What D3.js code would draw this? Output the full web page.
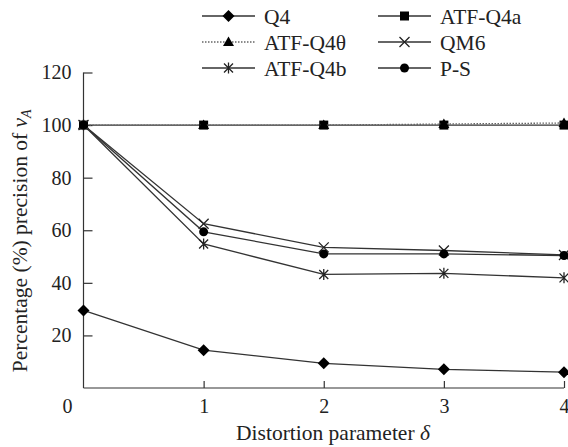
<!DOCTYPE html>
<html>
<head>
<meta charset="utf-8">
<script src="https://cdn.jsdelivr.net/npm/d3@7"></script>
<style>
  body { margin: 0; background: #fff; }
  text { font-family: "Liberation Serif", "Times New Roman", serif; fill: #222; }
</style>
</head>
<body>
<div id="chart"></div>
<script>
// Distortion parameter values on the x axis
const deltas = [0, 1, 2, 3, 4];
const yTicks = [20, 40, 60, 80, 100, 120];
const xTicks = [1, 2, 3, 4];

// Series values
const q4 = [29.5, 14.4, 9.4, 7.1, 6.0];
const atfQ4a = [100, 100, 100, 100, 100];
const atfQ4theta = [100, 100, 100, 100.4, 100.8];
const qm6 = [100, 62.5, 53.5, 52.3, 50.6];
const atfQ4b = [100, 54.8, 43.2, 43.6, 41.9];
const ps = [100, 59.4, 51.0, 51.0, 50.4];

const series = [
    { name: "Q4", values: q4, marker: "diamond", dash: null },
    { name: "ATF-Q4a", values: atfQ4a, marker: "square", dash: null },
    { name: "ATF-Q4θ", values: atfQ4theta, marker: "triangle", dash: "1.5,1.5" },
    { name: "QM6", values: qm6, marker: "cross", dash: null },
    { name: "ATF-Q4b", values: atfQ4b, marker: "star", dash: null },
    { name: "P-S", values: ps, marker: "circle", dash: null }
];

const width = 568, height = 447;
const margin = { left: 83.5, right: 4, top: 72.5, bottom: 59 };
const fontFamily = "'Liberation Serif', 'Times New Roman', serif";

const svg = d3.select("#chart").append("svg")
    .attr("width", width)
    .attr("height", height);

const x = d3.scaleLinear().domain([0, 4]).range([margin.left, width - margin.right]);
const y = d3.scaleLinear().domain([0, 120]).range([height - margin.bottom, margin.top]);

const lineColor = "#333";

// Draw a marker symbol centred on (cx, cy)
function drawMarker(g, type, cx, cy) {
    if (type === "diamond") {
        g.append("path")
            .attr("d", `M${cx},${cy - 6}L${cx + 6},${cy}L${cx},${cy + 6}L${cx - 6},${cy}Z`)
            .attr("fill", "#000");
    } else if (type === "square") {
        g.append("rect")
            .attr("x", cx - 4.5).attr("y", cy - 4.5)
            .attr("width", 9).attr("height", 9)
            .attr("fill", "#000");
    } else if (type === "triangle") {
        g.append("path")
            .attr("d", `M${cx},${cy - 5.5}L${cx + 5.5},${cy + 4}L${cx - 5.5},${cy + 4}Z`)
            .attr("fill", "#000");
    } else if (type === "circle") {
        g.append("circle")
            .attr("cx", cx).attr("cy", cy).attr("r", 4.5)
            .attr("fill", "#000");
    } else if (type === "cross") {
        g.append("path")
            .attr("d", `M${cx - 5},${cy - 5}L${cx + 5},${cy + 5}M${cx - 5},${cy + 5}L${cx + 5},${cy - 5}`)
            .attr("stroke", "#222").attr("stroke-width", 1.3).attr("fill", "none");
    } else if (type === "star") {
        g.append("path")
            .attr("d", `M${cx - 4.5},${cy - 4.5}L${cx + 4.5},${cy + 4.5}M${cx - 4.5},${cy + 4.5}L${cx + 4.5},${cy - 4.5}M${cx},${cy - 5.5}L${cx},${cy + 5.5}`)
            .attr("stroke", "#222").attr("stroke-width", 1.3).attr("fill", "none");
    }
}

// Axes (ticks point inward)
const yAxis = d3.axisLeft(y).tickValues(yTicks).tickSize(-9).tickPadding(12).tickFormat(d3.format("d"));
const yG = svg.append("g").attr("transform", `translate(${margin.left},0)`).call(yAxis);
yG.select(".domain").attr("d", `M0,${y(120)}V${y(0)}`);

const xAxis = d3.axisBottom(x).tickValues(xTicks).tickSize(-7).tickPadding(11).tickFormat(d3.format("d"));
const xG = svg.append("g").attr("transform", `translate(0,${y(0)})`).call(xAxis);
xG.select(".domain").attr("d", `M${x(0)},0H${x(4)}`);

[yG, xG].forEach(g => {
    g.attr("font-family", fontFamily).attr("font-size", 20);
    g.selectAll("path, line").attr("stroke", lineColor).attr("stroke-width", 1.2);
    g.selectAll("text").attr("fill", "#222");
});

// Origin label
svg.append("text")
    .attr("x", x(0) - 16).attr("y", y(0) + 25)
    .attr("text-anchor", "middle")
    .style("font-size", "20px")
    .text("0");

// Axis titles
svg.append("text")
    .attr("x", 333).attr("y", 440)
    .attr("text-anchor", "middle")
    .style("font-size", "21.5px")
    .html('Distortion parameter <tspan font-style="italic">δ</tspan>');

svg.append("text")
    .attr("transform", `translate(27,${y(56)}) rotate(-90)`)
    .attr("text-anchor", "middle")
    .style("font-size", "21.5px")
    .html('Percentage (%) precision of <tspan font-style="italic">v</tspan><tspan font-style="italic" font-size="14px" dy="4">A</tspan>');

// Series lines and markers
const line = d3.line().x((d, i) => x(deltas[i])).y(d => y(d));

series.forEach(s => {
    const g = svg.append("g");
    g.append("path")
        .datum(s.values)
        .attr("d", line)
        .attr("fill", "none")
        .attr("stroke", s.dash ? "#666" : lineColor)
        .attr("stroke-width", 1.3)
        .attr("stroke-dasharray", s.dash);
    s.values.forEach((v, i) => drawMarker(g, s.marker, x(deltas[i]), y(v)));
});

// Legend
const legendCols = [202, 378];
const legendRows = [16, 42, 68];
series.forEach((s, i) => {
    const lx = legendCols[i % 2];
    const ly = legendRows[Math.floor(i / 2)];
    const g = svg.append("g");
    g.append("line")
        .attr("x1", lx).attr("x2", lx + 53)
        .attr("y1", ly).attr("y2", ly)
        .attr("stroke", s.dash ? "#666" : lineColor)
        .attr("stroke-width", 1.3)
        .attr("stroke-dasharray", s.dash);
    drawMarker(g, s.marker, lx + 26.5, ly);
    g.append("text")
        .attr("x", lx + 62).attr("y", ly + 7.5)
        .style("font-size", "21.5px")
        .text(s.name);
});
</script>
</body>
</html>
